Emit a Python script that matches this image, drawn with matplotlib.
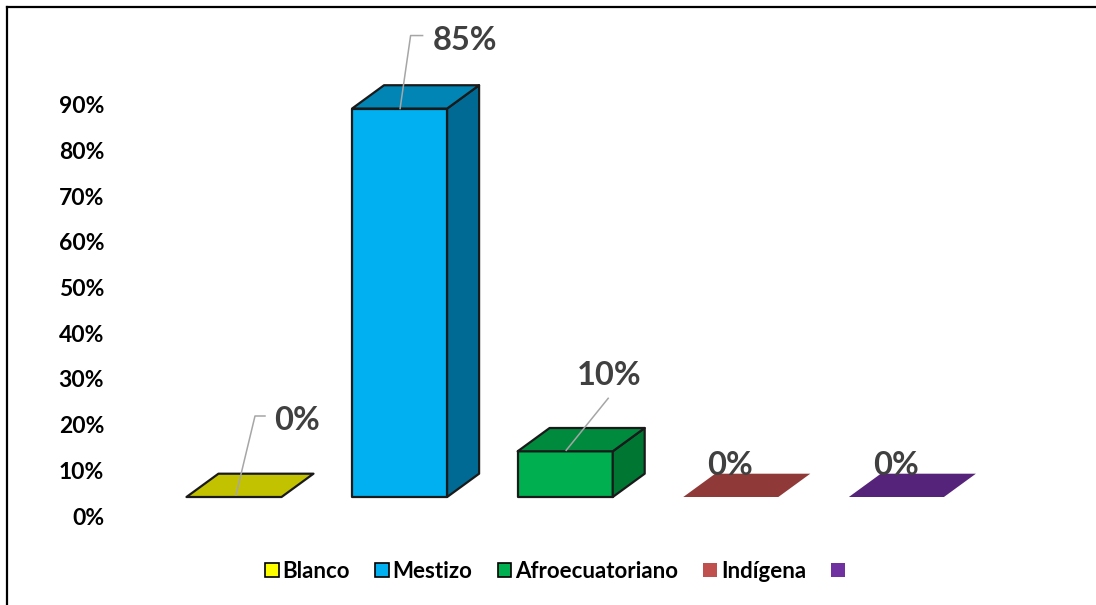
import matplotlib
matplotlib.use("Agg")
import matplotlib.pyplot as plt
from matplotlib.patches import Polygon, Patch
from matplotlib.lines import Line2D
from matplotlib import transforms as mtransforms

# ---- data ----
categories = ["Blanco", "Mestizo", "Afroecuatoriano", "Indígena", ""]
values = [0, 85, 10, 0, 0]
value_labels = ["0%", "85%", "10%", "0%", "0%"]
tick_values = [0, 10, 20, 30, 40, 50, 60, 70, 80, 90]
tick_labels = [f"{t}%" for t in tick_values]

# ---- styling ----
front_colors = ["#FFFF00", "#00B0F0", "#00B050", "#C0504D", "#7030A0"]
top_colors = ["#C2C200", "#0085B5", "#008A3E", "#8F3A38", "#56237A"]
side_colors = ["#9A9A00", "#006A94", "#007633", "#7A2E2C", "#471C66"]
outlined = [True, True, True, False, False]

# label placement relative to the front-top centre of each bar (pixels, y up)
label_offsets = [(63, 67), (65, 59), (44, 66), (-1, 22), (0, 22)]
leader_paths = [
    [(2, 2), (21, 81), (31, 81)],
    [(0.5, 0), (11, 73), (23, 73)],
    [(1, 1), (43, 53)],
    None,
    None,
]

plt.rcParams["font.family"] = ["Lato", "DejaVu Sans"]

W, H = 1096, 605
fig = plt.figure(figsize=(W / 100, H / 100), dpi=100)
ax = fig.add_axes([110 / W, 1 - 551.84 / H, (1029 - 110) / W, (551.84 - 40) / H])
ax.set_xlim(-0.7488, 4.8007)
ax.set_ylim(-12, 100)

bar_w = 0.574
depth_x = 0.193
depth_y = 5.1
edge_dark = "#1A1A1A"

for i, v in enumerate(values):
    x0, x1 = i - bar_w / 2, i + bar_w / 2
    if outlined[i]:
        kw = dict(ec=edge_dark, lw=1.6, joinstyle="round")
    else:
        kw = dict(ec="none", lw=0)
    if v > 0:
        ax.add_patch(Polygon([(x0, 0), (x1, 0), (x1, v), (x0, v)],
                             closed=True, fc=front_colors[i], zorder=2, **kw))
        ax.add_patch(Polygon([(x1, 0), (x1 + depth_x, depth_y),
                              (x1 + depth_x, v + depth_y), (x1, v)],
                             closed=True, fc=side_colors[i], zorder=2, **kw))
    ax.add_patch(Polygon([(x0, v), (x1, v), (x1 + depth_x, v + depth_y),
                          (x0 + depth_x, v + depth_y)],
                         closed=True, fc=top_colors[i], zorder=2, **kw))

# value labels and leader lines
for i, (v, txt) in enumerate(zip(values, value_labels)):
    ox, oy = label_offsets[i]
    ax.annotate(txt, xy=(i, v), xytext=(ox * 0.72, oy * 0.72),
                textcoords="offset points", ha="center", va="baseline",
                fontsize=23.5, fontweight="bold", color="#404040", zorder=5)
    path = leader_paths[i]
    if path:
        ax_disp = ax.transData.transform((i, v))
        xs = [ax_disp[0] + p[0] for p in path]
        ys = [ax_disp[1] + p[1] for p in path]
        fig.add_artist(Line2D(xs, ys, transform=mtransforms.IdentityTransform(),
                              color="#A6A6A6", lw=1.1, zorder=4))

# value axis (labels sit on the floor of the 3-D plot area)
ax.set_yticks([t - 4.16 for t in tick_values])
ax.set_yticklabels(tick_labels, fontsize=16.5, fontweight="bold", color="black")
ax.tick_params(axis="y", length=0, pad=4.3)
ax.set_xticks([])
for s in ax.spines.values():
    s.set_visible(False)

# legend
handles = []
for i in range(len(categories)):
    handles.append(Patch(fc=front_colors[i],
                         ec="black" if outlined[i] else front_colors[i],
                         lw=1.2 if outlined[i] else 0))
fig.legend(handles, categories, loc="center left",
           bbox_to_anchor=(265 / W, 34 / H), ncol=5, frameon=False,
           prop=dict(weight="bold", size=16), handlelength=0.61,
           handleheight=0.61, handletextpad=0.18, columnspacing=1.13,
           borderpad=0, borderaxespad=0)

# chart frame
fig.add_artist(Line2D([7 / W, 1], [1 - 7 / H, 1 - 7 / H], transform=fig.transFigure,
                      color="black", lw=1.6))
fig.add_artist(Line2D([7 / W, 7 / W], [0, 1 - 7 / H], transform=fig.transFigure,
                      color="black", lw=1.6))

fig.savefig("out.png", dpi=100, facecolor="white")
